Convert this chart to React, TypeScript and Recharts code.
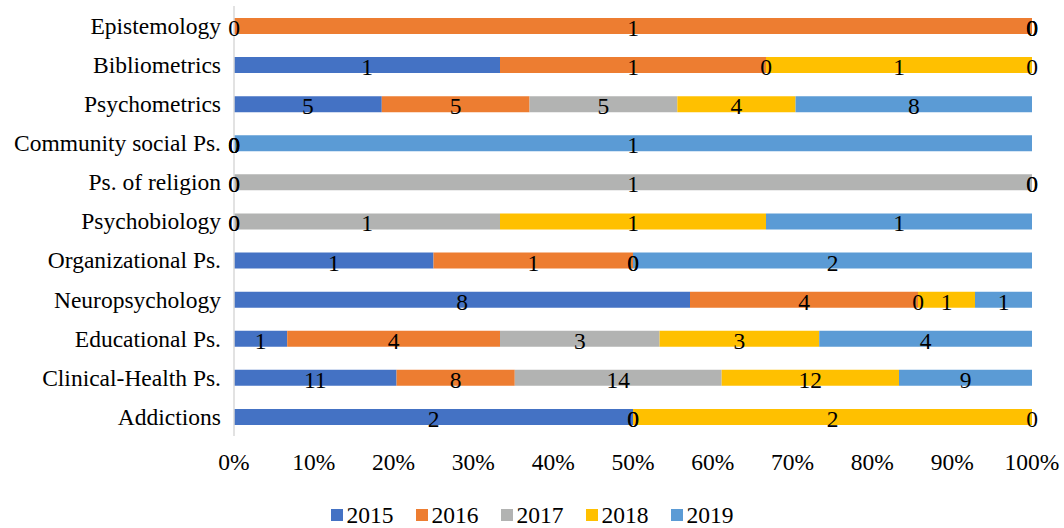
import React from "react";
import { BarChart, Bar, XAxis, YAxis, Legend, LabelList } from "recharts";

const categories = [
  "Epistemology",
  "Bibliometrics",
  "Psychometrics",
  "Community social Ps.",
  "Ps. of religion",
  "Psychobiology",
  "Organizational Ps.",
  "Neuropsychology",
  "Educational Ps.",
  "Clinical-Health Ps.",
  "Addictions",
];

const years = ["2015", "2016", "2017", "2018", "2019"];
const colors = ["#4472C4", "#ED7D31", "#B2B3B2", "#FFC000", "#5B9BD5"];

const v2015 = [0, 1, 5, 0, 0, 0, 1, 8, 1, 11, 2];
const v2016 = [1, 1, 5, 0, 0, 0, 1, 4, 4, 8, 0];
const v2017 = [0, 0, 5, 0, 1, 1, 0, 0, 3, 14, 0];
const v2018 = [0, 1, 4, 0, 0, 1, 0, 1, 3, 12, 2];
const v2019 = [0, 0, 8, 1, 0, 1, 2, 1, 4, 9, 0];

const xTicks = [0, 0.1, 0.2, 0.3, 0.4, 0.5, 0.6, 0.7, 0.8, 0.9, 1];

const series = [v2015, v2016, v2017, v2018, v2019];

const data = categories.map((c, i) => {
  const row: any = { name: c };
  years.forEach((y, k) => {
    row[y] = series[k][i];
  });
  return row;
});

const FONT = "Liberation Serif";
const FS = 23.5;

const renderLegend = () => (
  <div
    style={{
      display: "flex",
      justifyContent: "center",
      alignItems: "center",
      fontFamily: FONT,
      fontSize: FS,
      color: "#000",
      height: 26,
    }}
  >
    {years.map((y, i) => (
      <div key={y} style={{ display: "flex", alignItems: "center", marginRight: i < years.length - 1 ? 22 : 0 }}>
        <span style={{ display: "inline-block", width: 12, height: 12, background: colors[i], marginRight: 4 }} />
        <span>{y}</span>
      </div>
    ))}
  </div>
);

const Txt = ({ x, y, v }: { x: number; y: number; v: any }) => (
  <text
    x={x}
    y={y + 2}
    textAnchor="middle"
    dominantBaseline="central"
    fill="#000"
    style={{ fontFamily: FONT, fontSize: FS }}
  >
    {v}
  </text>
);

const makeLabel = (k: number) => (props: any) => {
  const { x, y, width, height, value, index, payload } = props;
  if (value === undefined || value === null) return null;
  const X = Number(x);
  const W = Number(width);
  const cy = Number(y) + Number(height) / 2;
  const out: any[] = [<Txt key="own" x={X + W / 2} y={cy} v={value} />];
  let i = -1;
  if (payload && typeof payload.name === "string") {
    i = categories.indexOf(payload.name);
  }
  if (i < 0) {
    const nz = series[k].map((v, r) => (v > 0 ? r : -1)).filter((r) => r >= 0);
    i = nz[Number(index)] ?? -1;
  }
  if (i >= 0 && Number(value) > 0) {
    const vals = series.map((s) => s[i]);
    const firstNZ = vals.findIndex((v) => v > 0);
    if (firstNZ === k) {
      const unit = W / Number(value);
      const before = (j: number) => vals.slice(0, j).reduce((a, b) => a + b, 0);
      const rowX0 = X - before(k) * unit;
      vals.forEach((v, j) => {
        if (v === 0) {
          out.push(<Txt key={"z" + j} x={rowX0 + before(j) * unit} y={cy} v={0} />);
        }
      });
    }
  }
  return <g>{out}</g>;
};

export default function App() {
  return (
    <div style={{ position: "absolute", left: 0, top: 0, width: 1064, height: 528, background: "#fff", fontFamily: FONT }}>
      <BarChart
        width={1064}
        height={528}
        data={data}
        layout="vertical"
        stackOffset="expand"
        margin={{ top: 6, right: 32, bottom: 0, left: 10 }}
      >
        <XAxis
          type="number"
          domain={[0, 1]}
          ticks={xTicks}
          tickFormatter={(v: number) => `${Math.round(v * 100)}%`}
          axisLine={false}
          tickLine={false}
          tickSize={15}
          height={66}
          interval={0}
          tick={{ fill: "#000", fontFamily: FONT, fontSize: FS }}
        />
        <YAxis
          type="category"
          dataKey="name"
          width={224}
          tickLine={false}
          axisLine={{ stroke: "#D9D9D9", strokeWidth: 1.5 }}
          tickMargin={7}
          interval={0}
          tick={{ fill: "#000", fontFamily: FONT, fontSize: FS }}
        />
        <Legend
          verticalAlign="bottom"
          height={26}
          content={renderLegend}
          wrapperStyle={{ left: 0, width: 1064, bottom: 0 }}
        />
        {years.map((y, i) => (
          <Bar key={y} dataKey={y} stackId="a" fill={colors[i]} barSize={16} isAnimationActive={false}>
            <LabelList dataKey={y} content={makeLabel(i)} />
          </Bar>
        ))}
      </BarChart>
    </div>
  );
}
